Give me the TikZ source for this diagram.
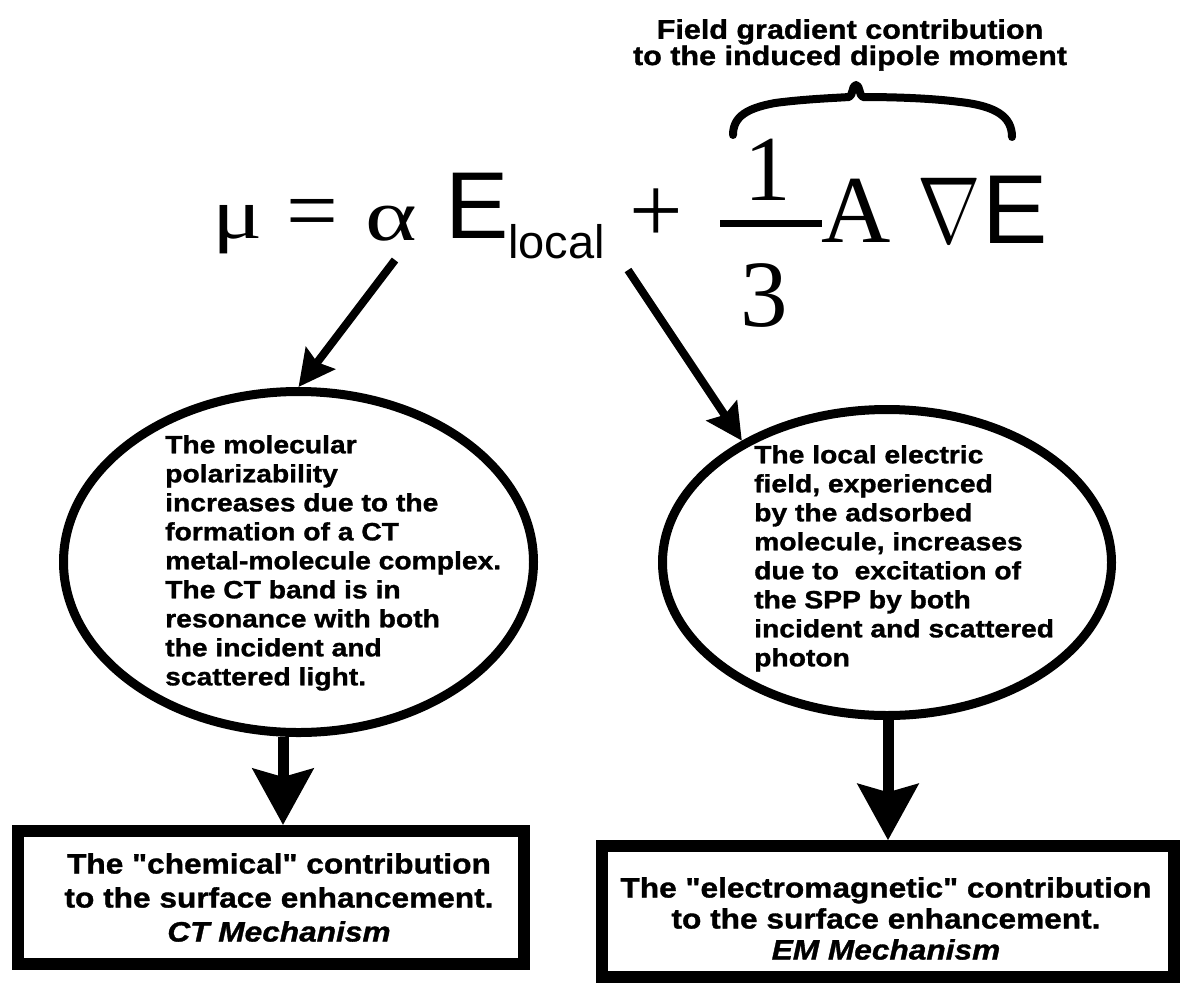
\documentclass[tikz,border=0pt]{standalone}
\usepackage{fontspec}
\usepackage{graphicx}
\usetikzlibrary{arrows.meta,shapes.geometric}
\newfontfamily\tf[FakeStretch=1.13,FakeBold=1.2]{Liberation Sans}
\newfontfamily\eqsans{Liberation Sans}
\newfontfamily\eqserif{Liberation Serif}
\begin{document}
\begin{tikzpicture}[x=1pt,y=-1pt,
  lbl/.style={inner sep=0pt, text=black},
  eqn/.style={inner sep=0pt, anchor=base, text=black},
  oval/.style={ellipse, draw=black, line width=9pt, inner sep=0pt},
  resultbox/.style={rectangle, draw=black, line width=12pt, inner sep=0pt},
  diagarrow/.style={line width=8pt, -{Stealth[length=36pt,width=36pt,inset=5pt]}},
  vertarrow/.style={line width=11pt, -{Stealth[length=56pt,width=60pt,inset=8pt]}},
  bracepath/.style={line width=8pt, line cap=round, line join=round}
]
\fill[white] (0,0) rectangle (1180,983);
\useasboundingbox (0,0) rectangle (1180,983);

% title
\node[lbl, align=center, anchor=north, font=\tf\bfseries\fontsize{27}{24}\selectfont] (title) at (850,19)
  {Field gradient contribution\\to the induced dipole moment};

% brace
\draw[bracepath] (733,135) .. controls (733,116) and (748,108) .. (775,103)
  .. controls (805,99) and (835,98) .. (849,97)
  .. controls (853,96) and (852,85) .. (856,85)
  .. controls (860,85) and (859,96) .. (863,97)
  .. controls (890,97) and (930,98) .. (960,102)
  .. controls (995,106) and (1012,116) .. (1012,137);

% equation
\node[eqn, font=\eqserif\fontsize{72}{72}\selectfont] (mu) at (237.5,238) {\scalebox{1.3}[1]{μ}};
\node[eqn, font=\eqserif\fontsize{92}{92}\selectfont] (eq) at (312.5,241) {=};
\node[eqn, font=\eqserif\fontsize{73}{73}\selectfont] (alpha) at (391.5,240) {\scalebox{1.35}[1]{α}};
\node[eqn, font=\eqsans\fontsize{95}{95}\selectfont] (E1) at (477.5,238) {E};
\node[eqn, font=\eqsans\fontsize{47}{47}\selectfont] (sub) at (556.5,258) {local};
\node[eqn, font=\eqserif\fontsize{95}{95}\selectfont] (plus) at (656,242.5) {+};
\node[eqn, font=\eqserif\fontsize{93}{93}\selectfont] (one) at (767.5,200) {1};
\node[eqn, font=\eqserif\fontsize{95}{95}\selectfont] (three) at (764,326) {3};
\draw[line width=7pt] (720,223) -- (822,223);
\node[eqn, font=\eqserif\fontsize{96}{96}\selectfont] (A) at (856,242) {A};
\node[eqn, font=\fontsize{10}{10}\selectfont] (nabla) at (949,242) {\scalebox{7.6}[9.4]{$\nabla$}};
\node[eqn, font=\eqsans\fontsize{98}{98}\selectfont] (E2) at (1015,243) {E};

% ellipses
\node[oval, minimum width=470pt, minimum height=341pt] (el) at (298.5,562) {};
\node[oval, minimum width=449pt, minimum height=306pt] (er) at (887,562.5) {};

\node[lbl, align=left, anchor=north west, font=\tf\bfseries\fontsize{25}{29}\selectfont] (eltext) at (165,435)
  {The molecular\\polarizability\\increases due to the\\formation of a CT\\metal-molecule complex.\\The CT band is in\\resonance with both\\the incident and\\scattered light.};
\node[lbl, align=left, anchor=north west, font=\tf\bfseries\fontsize{25}{29}\selectfont] (ertext) at (754,445)
  {The local electric\\field, experienced\\by the adsorbed\\molecule, increases\\due to~ excitation of\\the SPP by both\\incident and scattered\\photon};

% boxes
\node[resultbox, minimum width=506pt, minimum height=133pt] (ct) at (271,897.5) {};
\node[resultbox, minimum width=572.5pt, minimum height=131pt] (em) at (887.75,911.75) {};
\node[lbl, align=center, anchor=north, font=\tf\bfseries\fontsize{28}{34}\selectfont] (cttext) at (279,853)
  {The "chemical" contribution\\to the surface enhancement.\\{\itshape CT Mechanism}};
\node[lbl, align=center, anchor=north, font=\tf\bfseries\fontsize{28}{31}\selectfont] (emtext) at (886,877)
  {The "electromagnetic" contribution\\to the surface enhancement.\\{\itshape EM Mechanism}};

% connectors
\coordinate (s1) at (395,260);
\coordinate (s2) at (628,270);
\draw[diagarrow] (s1) -- (el.north);
\draw[diagarrow] (s2) -- (er.140);
\coordinate (v1) at (283,0);
\coordinate (v2) at (888,0);
\draw[vertarrow] (v1 |- el.south) -- (v1 |- ct.north);
\draw[vertarrow] (v2 |- er.south) -- (v2 |- em.north);
\end{tikzpicture}
\end{document}
